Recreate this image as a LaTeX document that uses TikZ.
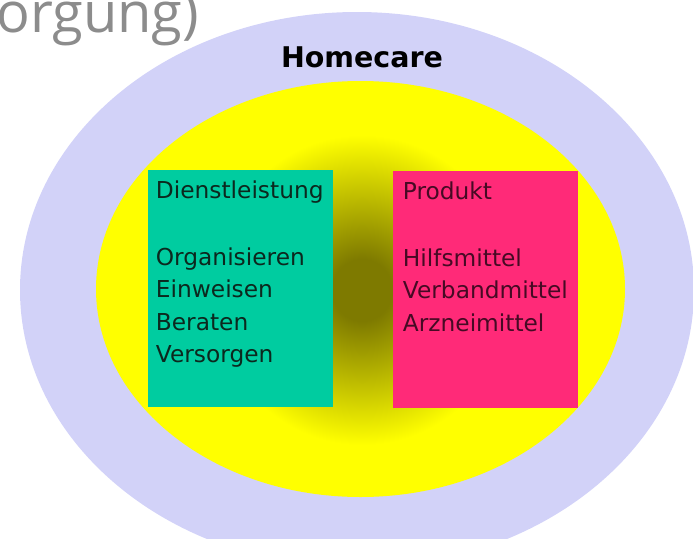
\documentclass[tikz,border=0pt]{standalone}
\usepackage{fontspec}
\setmainfont{DejaVu Sans}
\newfontfamily\headfont{Open Sans}
\usetikzlibrary{positioning}
\definecolor{ringblue}{RGB}{210,210,248}
\definecolor{careyellow}{RGB}{255,255,0}
\definecolor{centerolive}{RGB}{126,122,0}
\definecolor{dienstgreen}{RGB}{0,204,160}
\definecolor{produktpink}{RGB}{255,42,120}
\definecolor{dienstink}{RGB}{12,40,30}
\definecolor{produktink}{RGB}{70,10,36}
\pgfdeclareradialshading{hubshade}{\pgfpoint{0bp}{0bp}}{%
  color(0bp)=(centerolive); color(5bp)=(centerolive);
  color(25bp)=(careyellow); color(50bp)=(careyellow)}

\begin{document}
\begin{tikzpicture}[
      x=1pt, y=-1pt,
      box/.style={rectangle, inner sep=0pt, minimum width=185pt, minimum height=237pt, anchor=north west},
      boxtext/.style={inner sep=0pt, align=left, font=\fontsize{23.3}{32.4}\selectfont},
      title/.style={inner sep=0pt, anchor=base, font=\bfseries\fontsize{28.5}{34}\selectfont},
      cuttext/.style={inner sep=0pt, anchor=base west, text=black!45, font=\headfont\fontsize{56}{62}\selectfont},
    ]
  \clip (0,0) rectangle (693,538);
  % rings
  \fill[ringblue] (357,290) ellipse [x radius=337, y radius=278];
  \fill[careyellow] (360.5,289) ellipse [x radius=264.5, y radius=208];
  \shade[shading=hubshade] (362,290) ellipse [x radius=150, y radius=155];

  \node[cuttext] (versorgung) at (-4,32) {orgung)};
  \node[title] (homecare) at (362,67) {Homecare};

  % the two boxes
  \node[box, fill=dienstgreen] (dienst) at (148,170) {};
  \node[box, fill=produktpink] (produkt) at (393,171) {};

  \node[boxtext, text=dienstink, below right=10.3pt and 7.7pt of dienst.north west] (dienstlist)
    {Dienstleistung\\[34.6pt]Organisieren\\Einweisen\\Beraten\\Versorgen};
  \node[boxtext, text=produktink, below right=10.3pt and 9.7pt of produkt.north west] (produktlist)
    {Produkt\\[34.6pt]Hilfsmittel\\Verbandmittel\\Arzneimittel};
\end{tikzpicture}
\end{document}
